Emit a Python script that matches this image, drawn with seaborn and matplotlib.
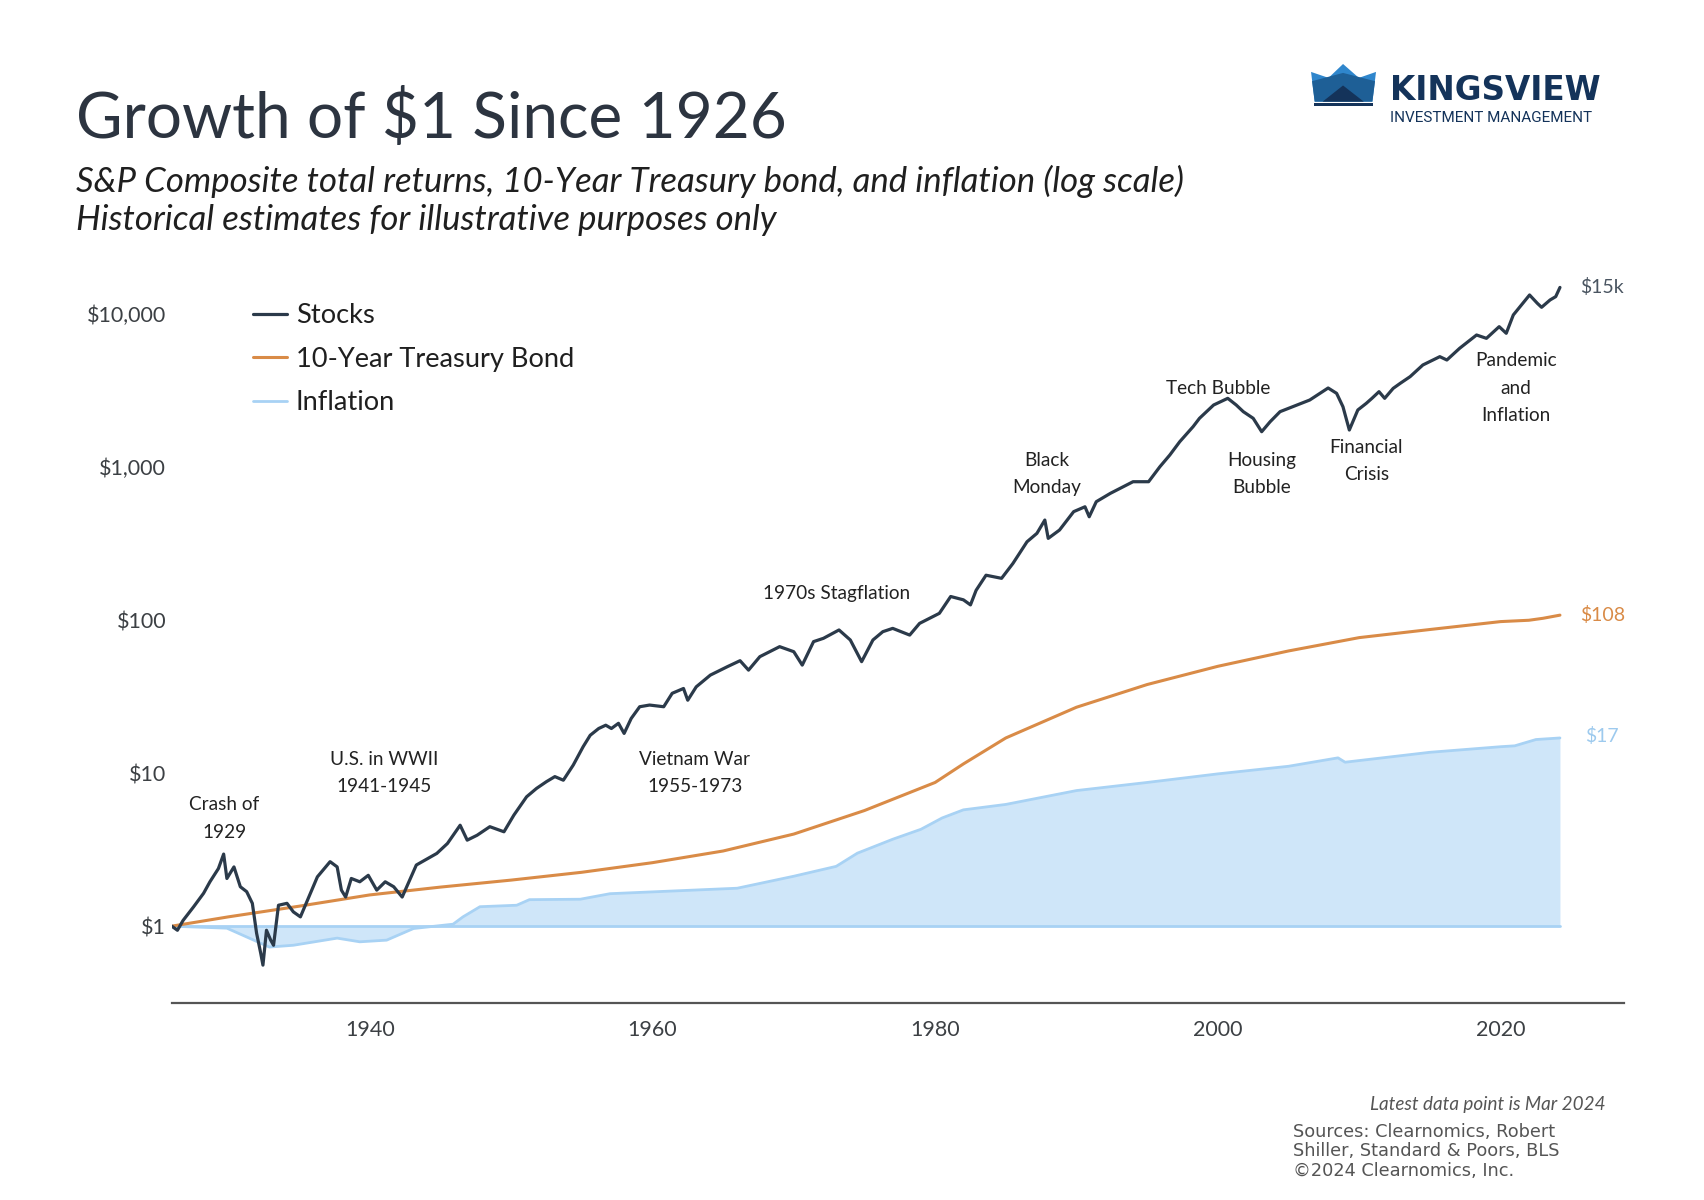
import numpy as np
import matplotlib
matplotlib.use("Agg")
import matplotlib.pyplot as plt
from matplotlib.patches import Polygon, Rectangle
import seaborn as sns

# Growth of $1 (log scale)
stock_years = [1926.0, 1926.4, 1926.8, 1927.55, 1928.25, 1928.7, 1929.3, 1929.67, 1929.9, 1930.4,
               1930.85, 1931.3, 1931.7, 1932.0, 1932.3, 1932.45, 1932.7, 1933.0, 1933.2, 1933.55,
               1934.15, 1934.6, 1935.1, 1935.6, 1936.3, 1937.2, 1937.7, 1938.0, 1938.3, 1938.7,
               1939.3, 1939.9, 1940.5, 1941.1, 1941.7, 1942.3, 1943.3, 1944.75, 1945.5, 1946.4,
               1946.9, 1947.6, 1948.5, 1949.5, 1950.2, 1951.1, 1951.8, 1952.5, 1953.1, 1953.7,
               1954.4, 1955.1, 1955.6, 1956.2, 1956.7, 1957.1, 1957.6, 1958.0, 1958.5, 1959.1,
               1959.8, 1960.8, 1961.4, 1962.2, 1962.5, 1963.1, 1964.1, 1965.3, 1966.2, 1966.8,
               1967.6, 1969.0, 1970.0, 1970.6, 1971.4, 1972.1, 1973.2, 1974.0, 1974.8, 1975.6,
               1976.3, 1977.0, 1978.2, 1978.9, 1980.3, 1981.1, 1982.0, 1982.5, 1982.9, 1983.6,
               1984.7, 1985.5, 1986.5, 1987.2, 1987.76, 1988.0, 1988.8, 1989.8, 1990.6, 1990.9,
               1991.4, 1992.4, 1994.0, 1995.1, 1995.9, 1996.6, 1997.3, 1998.25, 1998.7, 1999.7,
               2000.7, 2001.3, 2001.8, 2002.5, 2003.1, 2003.7, 2004.4, 2005.3, 2006.5, 2007.8,
               2008.4, 2008.85, 2009.3, 2009.9, 2010.5, 2010.9, 2011.4, 2011.8, 2012.4, 2012.9,
               2013.6, 2014.5, 2015.7, 2016.2, 2017.1, 2018.3, 2019.0, 2019.9, 2020.4, 2020.9,
               2022.05, 2022.6, 2022.9, 2023.5, 2023.9, 2024.2]
stock_vals = [1.0, 0.94, 1.09, 1.34, 1.64, 1.95, 2.38, 2.96, 2.05, 2.44,
              1.81, 1.68, 1.41, 0.90, 0.66, 0.556, 0.94, 0.81, 0.75, 1.37,
              1.41, 1.24, 1.15, 1.48, 2.10, 2.64, 2.44, 1.72, 1.55, 2.05,
              1.95, 2.15, 1.72, 1.95, 1.81, 1.55, 2.51, 2.99, 3.47, 4.57,
              3.65, 3.93, 4.47, 4.14, 5.32, 7.01, 7.95, 8.8, 9.5, 9.0,
              11.3, 14.9, 17.7, 19.6, 20.6, 19.6, 21.2, 18.2, 22.8, 27.2,
              27.9, 27.2, 33.3, 35.8, 30.0, 36.7, 43.8, 49.7, 54.4, 47.2,
              57.8, 67.2, 62.3, 50.9, 72.5, 76.2, 86.4, 74.3, 53.6, 74.3,
              84.2, 88.5, 80.0, 95.4, 111.0, 143.0, 136.0, 126.0, 157.0, 197.0,
              188.0, 235.0, 326.0, 370.0, 452.0, 343.0, 389.0, 513.0, 552.0, 475.0,
              596.0, 676.0, 805.0, 805.0, 1009.0, 1203.0, 1469.0, 1845.0, 2091.0, 2555.0,
              2825.0, 2555.0, 2311.0, 2091.0, 1709.0, 1987.0, 2311.0, 2490.0, 2754.0, 3300.0,
              3046.0, 2489.0, 1753.0, 2370.0, 2620.0, 2825.0, 3122.0, 2825.0, 3281.0, 3540.0,
              3915.0, 4667.0, 5290.0, 5030.0, 5997.0, 7330.0, 6970.0, 8310.0, 7520.0, 9910.0,
              13390.0, 11810.0, 11120.0, 12420.0, 13060.0, 15000.0]

bond_years = [1926, 1930, 1935, 1940, 1945, 1950, 1955, 1960, 1965, 1970, 1975, 1980,
              1982, 1985, 1990, 1995, 2000, 2005, 2010, 2015, 2020, 2022, 2023, 2024.2]
bond_vals = [1.0, 1.15, 1.35, 1.6, 1.8, 2.0, 2.25, 2.6, 3.1, 4.0, 5.7, 8.7,
             11.5, 17.0, 27.0, 38.0, 50.0, 63.0, 77.0, 87.0, 98.0, 100.0, 103.0, 108.0]

infl_years = [1926.0, 1929.9, 1932.9, 1934.6, 1937.7, 1939.3, 1941.2, 1943.1, 1945.9, 1946.6,
              1947.8, 1950.4, 1951.3, 1954.9, 1957.0, 1966.0, 1970.0, 1973.0, 1974.5, 1977.0,
              1979.0, 1980.5, 1982.0, 1985.0, 1990.0, 1995.0, 2000.0, 2005.0, 2008.5, 2009.0,
              2015.0, 2020.0, 2021.0, 2022.5, 2024.2]
infl_vals = [1.0, 0.97, 0.73, 0.75, 0.835, 0.79, 0.81, 0.965, 1.03, 1.15,
             1.34, 1.37, 1.49, 1.5, 1.63, 1.77, 2.12, 2.46, 3.0, 3.7,
             4.3, 5.1, 5.76, 6.25, 7.7, 8.7, 9.9, 11.1, 12.6, 11.8,
             13.7, 14.9, 15.1, 16.6, 17.0]

y_ticks = [1, 10, 100, 1000, 10000]
y_tick_labels = ["$1", "$10", "$100", "$1,000", "$10,000"]
x_ticks = [1940, 1960, 1980, 2000, 2020]

events = ["Crash of\n1929", "U.S. in WWII\n1941-1945", "Vietnam War\n1955-1973",
          "1970s Stagflation", "Black\nMonday", "Tech Bubble", "Housing\nBubble",
          "Financial\nCrisis", "Pandemic\nand\nInflation"]
event_x = [1929.7, 1941.0, 1963.0, 1973.0, 1987.9, 2000.0, 2003.1, 2010.5, 2021.1]
event_y = [5.06, 10.0, 10.0, 150, 906, 3300, 906, 1100, 3300]

STOCK_C = "#2b3a4a"
BOND_C = "#d98b47"
INFL_C = "#a8d2f4"
FILL_C = "#cfe6f9"

sns.set_theme(style="white")
plt.rcParams["font.family"] = ["Lato", "DejaVu Sans"]

fig = plt.figure(figsize=(17.04, 12), dpi=100)
ax = fig.add_axes([0.1008, 0.164, 0.852, 0.611])

# inflation area relative to $1
ax.fill_between(infl_years, 1, infl_vals, color=FILL_C, linewidth=0)
ax.plot([infl_years[0], infl_years[-1]], [1, 1], color=INFL_C, lw=2, zorder=2)
sns.lineplot(x=stock_years, y=stock_vals, color=STOCK_C, linewidth=2.3,
             estimator=None, label="Stocks", ax=ax, zorder=4)
sns.lineplot(x=bond_years, y=bond_vals, color=BOND_C, linewidth=2.2,
             estimator=None, label="10-Year Treasury Bond", ax=ax, zorder=3)
sns.lineplot(x=infl_years, y=infl_vals, color=INFL_C, linewidth=2,
             estimator=None, label="Inflation", ax=ax, zorder=2)

ax.set_yscale("log")
ax.set_xlim(1926, 2028.7)
ax.set_ylim(0.3135, 19500)
ax.set_yticks(y_ticks)
ax.set_yticklabels(y_tick_labels)
ax.minorticks_off()
ax.set_xticks(x_ticks)
ax.set_xticklabels([str(x) for x in x_ticks])
ax.tick_params(axis="y", length=0, pad=4, labelsize=15.5, labelcolor="#3c4044")
ax.tick_params(axis="x", length=0, pad=12, labelsize=15.5, labelcolor="#3c4044")
ax.set_xlabel("")
ax.set_ylabel("")
for s in ["left", "top", "right"]:
    ax.spines[s].set_visible(False)
ax.spines["bottom"].set_color("#555555")
ax.spines["bottom"].set_linewidth(1.6)

leg = ax.legend(loc="upper left", bbox_to_anchor=(0.0465, 0.973), frameon=False,
                fontsize=19.6, handlelength=1.27, handletextpad=0.3, labelspacing=0.68,
                borderpad=0)
for t in leg.get_texts():
    t.set_color("#1f1f1f")

for txt, xv, yv in zip(events, event_x, event_y):
    ax.text(xv, yv, txt, ha="center", va="center", fontsize=13.7, linespacing=1.75,
            color="#222222")

ax.text(2025.6, 15100, "$15k", ha="left", va="center", fontsize=14, color="#4a5561")
ax.text(2025.6, 108, "$108", ha="left", va="center", fontsize=14, color=BOND_C)
ax.text(2026.0, 17.5, "$17", ha="left", va="center", fontsize=14, color="#9dcaee")

# titles
fig.text(0.0446, 0.885, "Growth of $1 Since 1926", fontsize=46, color="#2c3440",
         va="baseline", ha="left")
fig.text(0.0446, 0.84, "S&P Composite total returns, 10-Year Treasury bond, and inflation (log scale)",
         fontsize=25, style="italic", color="#1f1f1f", va="baseline", ha="left")
fig.text(0.0446, 0.808, "Historical estimates for illustrative purposes only",
         fontsize=25, style="italic", color="#1f1f1f", va="baseline", ha="left")

# footer
fig.text(0.9425, 0.0754, "Latest data point is Mar 2024", fontsize=13.6, style="italic",
         color="#555555", ha="right", va="baseline")
for i, line in enumerate(["Sources: Clearnomics, Robert", "Shiller, Standard & Poors, BLS",
                          "\u00a92024 Clearnomics, Inc."]):
    fig.text(0.7588, 0.0529 - i * 0.0165, line, fontsize=12.8, color="#555555",
             ha="left", va="baseline", family=["DejaVu Sans"])

# logo
lax = fig.add_axes([0.7694, 0.9117, 0.0387, 0.0358])
lax.set_xlim(0, 200)
lax.set_ylim(0, 130)
lax.axis("off")
lax.add_patch(Polygon([(0, 103), (53, 85), (97, 127), (145, 85), (197, 103), (186, 13), (11, 13)],
                      closed=True, color="#2f86cc", lw=0))
lax.add_patch(Polygon([(3, 75), (97, 100), (194, 75), (186, 13), (11, 13)],
                      closed=True, color="#1e5f96", lw=0))
lax.add_patch(Polygon([(35, 13), (97, 62), (160, 13)], closed=True, color="#14335a", lw=0))
lax.add_patch(Rectangle((10, 0), 177, 9, color="#14335a", lw=0))
fig.text(0.8157, 0.9167, "KINGSVIEW", fontsize=23.5, fontweight="bold", color="#14335a",
         ha="left", va="baseline", family=["DejaVu Sans"])
fig.text(0.8157, 0.8983, "INVESTMENT MANAGEMENT", fontsize=11, color="#14335a",
         ha="left", va="baseline", family=["Roboto"])

fig.savefig("out.png", dpi=100)
